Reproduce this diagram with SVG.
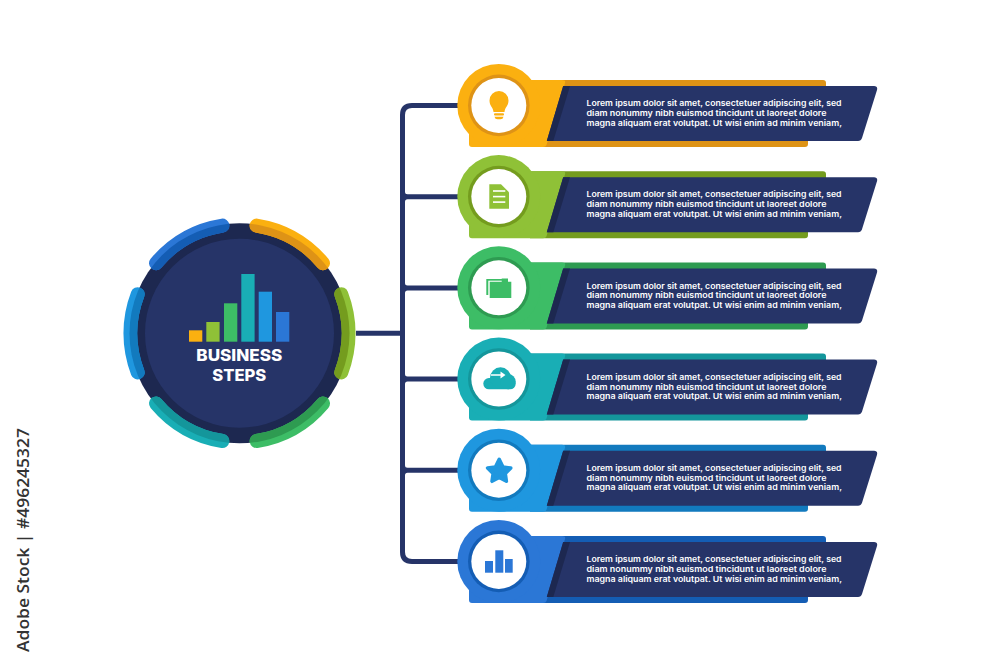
<svg xmlns="http://www.w3.org/2000/svg" width="1000" height="667" viewBox="0 0 1000 667">
<style>
.t{font-family:"Inter","Liberation Sans",sans-serif;font-size:8.1px;font-weight:600;fill:#fff}
.h{font-family:"Inter","Liberation Sans",sans-serif;font-size:16px;font-weight:800;fill:#fff;text-anchor:middle}
.c{fill:none;stroke:#263468;stroke-width:5}
.a{fill:none;stroke-width:14;stroke-linecap:round}
.navy{fill:#263468}
.wedge{fill:#1d2850}
.w{fill:#fff}
.i1{fill:#fbb010}.d1{fill:#de9316}
.i2{fill:#8fc137}.d2{fill:#749c1e}
.i3{fill:#3dbd66}.d3{fill:#2e9b51}
.i4{fill:#19aeb5}.d4{fill:#14969b}
.i5{fill:#1f97df}.d5{fill:#127abe}
.i6{fill:#2b77d6}.d6{fill:#145db4}
</style>
<defs>
<clipPath id="ringClip"><circle cx="239.5" cy="333.3" r="110"/></clipPath>
<path id="strips" d="M530 80H823a3 3 0 0 1 3 3V120H530ZM530 110H808V144a3 3 0 0 1-3 3H530Z"/>
<path id="body" d="M469 120L498.8 80H562Q566 80 565 83L546.5 145Q546 147 543 147H472Q469 147 469 144Z"/>
<path id="panel" d="M563.2 86H874Q878 86 877 90L862 138Q861 141 858 141H546.8Z"/>
<path id="wedgeShape" d="M563.2 86H570L553.3 141H546.8Z"/>
<g id="arcs">
<path id="arcA" d="M341.3 294.2A109 109 0 0 1 341.3 372.4"/>
<path id="arcB" d="M256.6 225.6A109 109 0 0 1 323 263.2"/>
<path id="arcC" d="M156 263.2A109 109 0 0 1 222.4 225.6"/>
<path id="arcD" d="M137.7 372.4A109 109 0 0 1 137.7 294.2"/>
<path id="arcE" d="M222.4 441A109 109 0 0 1 156 403.4"/>
<path id="arcF" d="M323 403.4A109 109 0 0 1 256.6 441"/>
</g>
</defs>
<rect width="1000" height="667" fill="#fff"/>
<text transform="translate(28.5,652) rotate(-90)" font-family="'Open Sans','Liberation Sans',sans-serif" font-size="17" font-weight="600" fill="#333" textLength="224" lengthAdjust="spacingAndGlyphs">Adobe Stock | #496245327</text>
<g id="connectors">
<path class="c" d="M356 333.3H402.5"/>
<path class="c" d="M460 105.5H412Q402.5 105.5 402.5 115V552Q402.5 561.5 412 561.5H460"/>
<path class="c" d="M402.5 191.700Q402.5 196.7 407.500 196.7H460M402.5 201.700Q402.5 196.7 407.500 196.7"/>
<path class="c" d="M402.5 282.900Q402.5 287.9 407.500 287.9H460M402.5 292.900Q402.5 287.9 407.500 287.9"/>
<path class="c" d="M402.5 374.100Q402.5 379.1 407.500 379.1H460M402.5 384.100Q402.5 379.1 407.500 379.1"/>
<path class="c" d="M402.5 465.300Q402.5 470.3 407.500 470.3H460M402.5 475.300Q402.5 470.3 407.500 470.3"/>
</g>
<g id="hub">
<circle cx="239.5" cy="333.3" r="110" fill="#1d2850"/>
<use href="#arcA" class="a" stroke="#8fc137"/><use href="#arcB" class="a" stroke="#fbb010"/><use href="#arcC" class="a" stroke="#2b77d6"/><use href="#arcD" class="a" stroke="#1f97df"/><use href="#arcE" class="a" stroke="#19aeb5"/><use href="#arcF" class="a" stroke="#3dbd66"/>
<g clip-path="url(#ringClip)">
<use href="#arcA" class="a" stroke="#749c1e"/><use href="#arcB" class="a" stroke="#de9316"/><use href="#arcC" class="a" stroke="#145db4"/><use href="#arcD" class="a" stroke="#127abe"/><use href="#arcE" class="a" stroke="#14969b"/><use href="#arcF" class="a" stroke="#2e9b51"/>
</g>
<circle cx="239.5" cy="333.3" r="94.5" class="navy"/>
<rect x="189" y="330.3" width="13.3" height="11.4" class="i1"/>
<rect x="206.3" y="322" width="13.3" height="19.7" class="i2"/>
<rect x="224" y="303.3" width="13.3" height="38.4" class="i3"/>
<rect x="241.3" y="274" width="13.3" height="67.7" class="i4"/>
<rect x="258.7" y="291.7" width="13.3" height="50" class="i5"/>
<rect x="276" y="312" width="13.3" height="29.7" class="i6"/>
<text class="h" x="239.3" y="361.3" textLength="86" lengthAdjust="spacingAndGlyphs">BUSINESS</text>
<text class="h" x="239.3" y="380.8" textLength="54" lengthAdjust="spacingAndGlyphs">STEPS</text>
</g>
<g id="step1">
<use href="#strips" class="d1"/><use href="#body" class="i1"/><circle cx="498.8" cy="105.4" r="41.5" class="i1"/>
<circle cx="498.8" cy="105.4" r="30.8" class="d1"/><circle cx="498.8" cy="105.4" r="27.5" class="w"/>
<use href="#panel" class="navy"/><use href="#wedgeShape" class="wedge"/>
<path class="i1" d="M493.5 112C493 107 489.5 106 489.5 100.5A9.5 9.5 0 0 1 508.5 100.5C508.5 106 505 107 504.5 112Z"/>
<rect x="494" y="113.3" width="10" height="2.2" rx="1" class="i1"/><path class="i1" d="M494.5 116.8H503.5Q503 119.3 500.5 119.3H497.5Q495 119.3 494.5 116.8Z"/>
<text class="t" x="586.5" y="106.3" textLength="255" lengthAdjust="spacingAndGlyphs">Lorem ipsum dolor sit amet, consectetuer adipiscing elit, sed</text>
<text class="t" x="586.5" y="116" textLength="240" lengthAdjust="spacingAndGlyphs">diam nonummy nibh euismod tincidunt ut laoreet dolore</text>
<text class="t" x="586.5" y="125.6" textLength="255.500" lengthAdjust="spacingAndGlyphs">magna aliquam erat volutpat. Ut wisi enim ad minim veniam,</text>
</g>
<g id="step2" transform="translate(0,91.2)">
<use href="#strips" class="d2"/><use href="#body" class="i2"/><circle cx="498.8" cy="105.4" r="41.5" class="i2"/>
<circle cx="498.8" cy="105.4" r="30.8" class="d2"/><circle cx="498.8" cy="105.4" r="27.5" class="w"/>
<use href="#panel" class="navy"/><use href="#wedgeShape" class="wedge"/>
<path class="i2" d="M489.3 93.1H501L509 101V117.5H489.3Z"/>
<rect x="493" y="99" width="12.300" height="1.600" class="w"/><rect x="493" y="104.600" width="12.300" height="1.600" class="w"/><rect x="493" y="110.100" width="12.300" height="1.600" class="w"/>
<text class="t" x="586.5" y="106.3" textLength="255" lengthAdjust="spacingAndGlyphs">Lorem ipsum dolor sit amet, consectetuer adipiscing elit, sed</text>
<text class="t" x="586.5" y="116" textLength="240" lengthAdjust="spacingAndGlyphs">diam nonummy nibh euismod tincidunt ut laoreet dolore</text>
<text class="t" x="586.5" y="125.6" textLength="255.500" lengthAdjust="spacingAndGlyphs">magna aliquam erat volutpat. Ut wisi enim ad minim veniam,</text>
</g>
<g id="step3" transform="translate(0,182.4)">
<use href="#strips" class="d3"/><use href="#body" class="i3"/><circle cx="498.8" cy="105.4" r="41.5" class="i3"/>
<circle cx="498.8" cy="105.4" r="30.8" class="d3"/><circle cx="498.8" cy="105.4" r="27.5" class="w"/>
<use href="#panel" class="navy"/><use href="#wedgeShape" class="wedge"/>
<rect x="486.3" y="96.6" width="18" height="16" class="i3"/><rect x="488.3" y="98.300" width="18" height="16" class="w"/>
<path class="i3" d="M489.7 99.3H501.700V96.200H508V99.300H511.300V115.600H489.700Z"/>
<text class="t" x="586.5" y="106.3" textLength="255" lengthAdjust="spacingAndGlyphs">Lorem ipsum dolor sit amet, consectetuer adipiscing elit, sed</text>
<text class="t" x="586.5" y="116" textLength="240" lengthAdjust="spacingAndGlyphs">diam nonummy nibh euismod tincidunt ut laoreet dolore</text>
<text class="t" x="586.5" y="125.6" textLength="255.500" lengthAdjust="spacingAndGlyphs">magna aliquam erat volutpat. Ut wisi enim ad minim veniam,</text>
</g>
<g id="step4" transform="translate(0,273.6)">
<use href="#strips" class="d4"/><use href="#body" class="i4"/><circle cx="498.8" cy="105.4" r="41.5" class="i4"/>
<circle cx="498.8" cy="105.4" r="30.8" class="d4"/><circle cx="498.8" cy="105.4" r="27.5" class="w"/>
<use href="#panel" class="navy"/><use href="#wedgeShape" class="wedge"/>
<rect x="483.3" y="104.4" width="32.4" height="11.3" rx="5.6" class="i4"/><circle cx="500.500" cy="104.200" r="10.500" class="i4"/><circle cx="508" cy="108" r="7.700" class="i4"/>
<path class="w" d="M491 100.600H500.500V98L505.500 101.400L500.500 104.800V102.200H491Z"/>
<text class="t" x="586.5" y="106.3" textLength="255" lengthAdjust="spacingAndGlyphs">Lorem ipsum dolor sit amet, consectetuer adipiscing elit, sed</text>
<text class="t" x="586.5" y="116" textLength="240" lengthAdjust="spacingAndGlyphs">diam nonummy nibh euismod tincidunt ut laoreet dolore</text>
<text class="t" x="586.5" y="125.6" textLength="255.500" lengthAdjust="spacingAndGlyphs">magna aliquam erat volutpat. Ut wisi enim ad minim veniam,</text>
</g>
<g id="step5" transform="translate(0,364.8)">
<use href="#strips" class="d5"/><use href="#body" class="i5"/><circle cx="498.8" cy="105.4" r="41.5" class="i5"/>
<circle cx="498.8" cy="105.4" r="30.8" class="d5"/><circle cx="498.8" cy="105.4" r="27.5" class="w"/>
<use href="#panel" class="navy"/><use href="#wedgeShape" class="wedge"/>
<path class="i5" stroke="#1f97df" stroke-width="3.500" stroke-linejoin="round" d="M499.200 94.500L503 102.300L510.800 103.200L505.300 108.800L506.400 116.500L499.200 112.700L492 116.500L493.100 108.800L487.600 103.200L495.400 102.300Z"/>
<text class="t" x="586.5" y="106.3" textLength="255" lengthAdjust="spacingAndGlyphs">Lorem ipsum dolor sit amet, consectetuer adipiscing elit, sed</text>
<text class="t" x="586.5" y="116" textLength="240" lengthAdjust="spacingAndGlyphs">diam nonummy nibh euismod tincidunt ut laoreet dolore</text>
<text class="t" x="586.5" y="125.6" textLength="255.500" lengthAdjust="spacingAndGlyphs">magna aliquam erat volutpat. Ut wisi enim ad minim veniam,</text>
</g>
<g id="step6" transform="translate(0,456)">
<use href="#strips" class="d6"/><use href="#body" class="i6"/><circle cx="498.8" cy="105.4" r="41.5" class="i6"/>
<circle cx="498.8" cy="105.4" r="30.8" class="d6"/><circle cx="498.8" cy="105.4" r="27.5" class="w"/>
<use href="#panel" class="navy"/><use href="#wedgeShape" class="wedge"/>
<rect x="485" y="105" width="8" height="11.700" class="i6"/><rect x="495.300" y="94.300" width="8" height="22.400" class="i6"/><rect x="505" y="103" width="7.700" height="13.700" class="i6"/>
<text class="t" x="586.5" y="106.3" textLength="255" lengthAdjust="spacingAndGlyphs">Lorem ipsum dolor sit amet, consectetuer adipiscing elit, sed</text>
<text class="t" x="586.5" y="116" textLength="240" lengthAdjust="spacingAndGlyphs">diam nonummy nibh euismod tincidunt ut laoreet dolore</text>
<text class="t" x="586.5" y="125.6" textLength="255.500" lengthAdjust="spacingAndGlyphs">magna aliquam erat volutpat. Ut wisi enim ad minim veniam,</text>
</g>
</svg>
